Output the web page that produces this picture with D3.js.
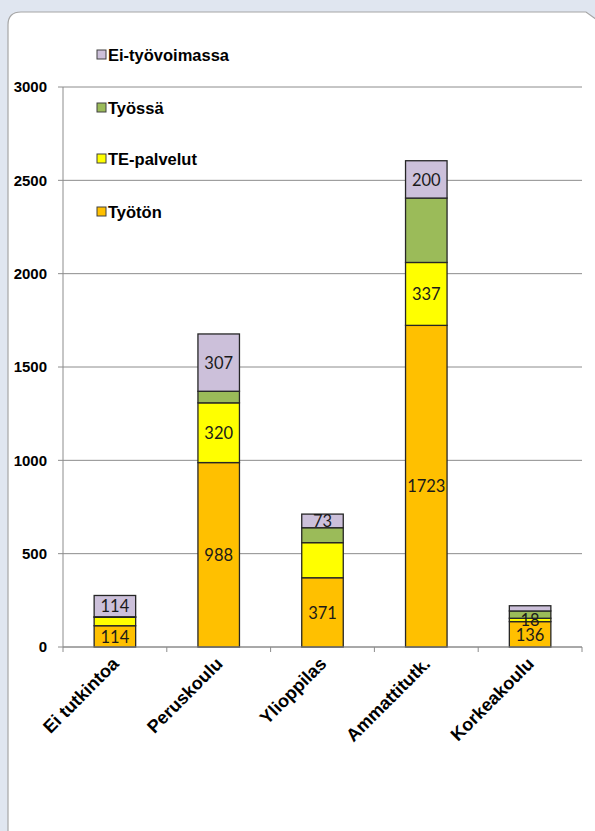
<!DOCTYPE html>
<meta charset="utf-8">
<script src="https://d3js.org/d3.v7.min.js"></script>
<style>
  body { margin: 0; background: #e0e6f0; }
</style>
<div id="chart"></div>
<script>

// categories and series
var categories = ["Ei tutkintoa", "Peruskoulu", "Ylioppilas", "Ammattitutk.", "Korkeakoulu"];
var tyoton        = [114, 988, 371, 1723, 136];
var tePalvelut    = [45, 320, 188, 337, 18];
var tyossa        = [3, 62, 80, 345, 39];
var eiTyovoimassa = [114, 307, 73, 200, 28];

// which segments carry a data label in the original
var labelTyoton = [true, true, true, true, true];
var labelTe     = [false, true, false, true, true];
var labelTyossa = [false, false, false, false, false];
var labelEi     = [true, true, true, true, false];

var yTicks = [0, 500, 1000, 1500, 2000, 2500, 3000];

var seriesNames  = ["Työtön", "TE-palvelut", "Työssä", "Ei-työvoimassa"];
var seriesColors = ["#ffc000", "#ffff00", "#9bbb59", "#ccc0da"];
var seriesValues = [tyoton, tePalvelut, tyossa, eiTyovoimassa];
var seriesLabels = [labelTyoton, labelTe, labelTyossa, labelEi];

var W = 595, H = 831;
var svg = d3.select("#chart").append("svg")
    .attr("width", W)
    .attr("height", H);

// background + white panel (rounded top-left, cut top-right)
svg.append("rect").attr("width", W).attr("height", H).attr("fill", "#e0e6f0");
svg.append("path")
    .attr("d", "M8,840 L8,25 Q8,12 21,12 L586,12 L600,22 L600,840 Z")
    .attr("fill", "#fff")
    .attr("stroke", "#a6a6a6")
    .attr("stroke-width", 1.2);

// table for d3.stack
var table = categories.map(function(c, i) {
  var row = { cat: c };
  seriesNames.forEach(function(s, j) { row[s] = seriesValues[j][i]; });
  return row;
});
var stacked = d3.stack().keys(seriesNames)(table);

var x = d3.scaleBand()
    .domain(categories)
    .range([63, 582])
    .paddingInner(0.6)
    .paddingOuter(0.3);

var y = d3.scaleLinear()
    .domain([0, 3000])
    .range([647, 87]);

// gridlines
svg.append("g")
  .selectAll("line")
  .data(yTicks)
  .enter().append("line")
    .attr("x1", 58).attr("x2", 582)
    .attr("y1", function(d) { return y(d); })
    .attr("y2", function(d) { return y(d); })
    .attr("stroke", "#8c8c8c")
    .attr("stroke-width", 1);

// y axis line
svg.append("line")
    .attr("x1", 63).attr("x2", 63)
    .attr("y1", y(3000)).attr("y2", y(0))
    .attr("stroke", "#8c8c8c");

// y tick labels
svg.append("g")
  .selectAll("text")
  .data(yTicks)
  .enter().append("text")
    .attr("x", 47)
    .attr("y", function(d) { return y(d); })
    .attr("dy", "0.36em")
    .attr("text-anchor", "end")
    .style("font-family", "'Liberation Sans', Arial, sans-serif")
    .style("font-weight", "bold")
    .style("font-size", "15px")
    .text(function(d) { return d; });

// bars
var groups = svg.append("g")
  .selectAll("g")
  .data(stacked)
  .enter().append("g")
    .attr("fill", function(d, i) { return seriesColors[i]; });

groups.selectAll("rect")
  .data(function(d) { return d; })
  .enter().append("rect")
    .attr("x", function(d) { return x(d.data.cat); })
    .attr("width", x.bandwidth())
    .attr("y", function(d) { return y(d[1]); })
    .attr("height", function(d) { return y(d[0]) - y(d[1]); })
    .attr("stroke", "#262626")
    .attr("stroke-width", 1.3);

// data labels
stacked.forEach(function(layer, j) {
  svg.append("g")
    .selectAll("text")
    .data(layer.filter(function(d, i) { return seriesLabels[j][i]; }))
    .enter().append("text")
      .attr("x", function(d) { return x(d.data.cat) + x.bandwidth() / 2; })
      .attr("y", function(d) { return (y(d[0]) + y(d[1])) / 2; })
      .attr("dy", "0.38em")
      .attr("text-anchor", "middle")
      .style("font-family", "Lato, 'Open Sans', sans-serif")
      .style("font-size", "16.5px")
      .attr("fill", "#1a1a1a")
      .text(function(d) { return d[1] - d[0]; });
});

// x axis
svg.append("line")
    .attr("x1", 63).attr("x2", 582)
    .attr("y1", y(0)).attr("y2", y(0))
    .attr("stroke", "#8c8c8c");

var bounds = categories.map(function(c) { return x(c) - x.step() * 0.3; });
bounds.push(582);
svg.append("g")
  .selectAll("line")
  .data(bounds)
  .enter().append("line")
    .attr("x1", function(d) { return d; })
    .attr("x2", function(d) { return d; })
    .attr("y1", y(0)).attr("y2", y(0) + 5)
    .attr("stroke", "#8c8c8c");

svg.append("g")
  .selectAll("text")
  .data(categories)
  .enter().append("text")
    .attr("transform", function(d) {
      return "translate(" + (x(d) + x.bandwidth() / 2 + 5) + "," + 665 + ") rotate(-45)";
    })
    .attr("text-anchor", "end")
    .style("font-family", "'Liberation Sans', Arial, sans-serif")
    .style("font-weight", "bold")
    .style("font-size", "18px")
    .text(function(d) { return d; });

// legend (top item = last series)
var legendY = [55, 108, 159, 212];
var legend = svg.append("g")
  .selectAll("g")
  .data(seriesNames.slice().reverse())
  .enter().append("g")
    .attr("transform", function(d, i) { return "translate(97," + legendY[i] + ")"; });

legend.append("rect")
    .attr("x", 0).attr("y", -5)
    .attr("width", 9).attr("height", 9)
    .attr("fill", function(d) { return seriesColors[seriesNames.indexOf(d)]; })
    .attr("stroke", "#404040")
    .attr("stroke-width", 1);

legend.append("text")
    .attr("x", 11)
    .attr("y", 0)
    .attr("dy", "0.36em")
    .style("font-family", "'Liberation Sans', Arial, sans-serif")
    .style("font-weight", "bold")
    .style("font-size", "16.5px")
    .text(function(d) { return d; });

</script>
